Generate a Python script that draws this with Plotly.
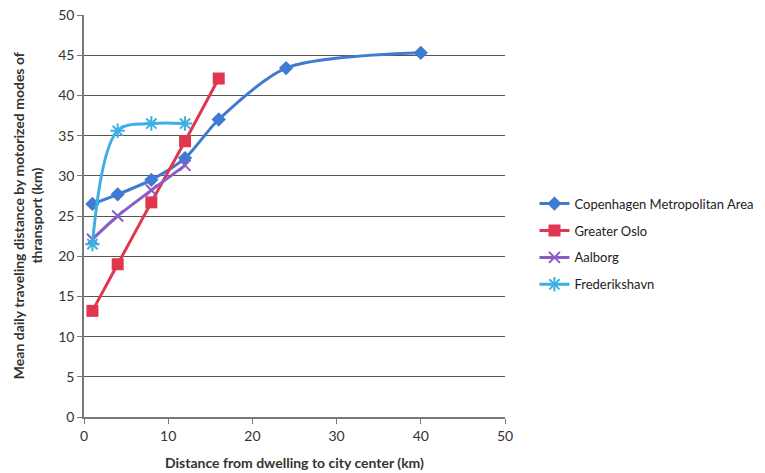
import plotly.graph_objects as go

cph_x = [1, 4, 8, 12, 16, 24, 40]
cph_y = [26.5, 27.7, 29.5, 32.2, 37.0, 43.4, 45.3]
oslo_x = [1, 4, 8, 12, 16]
oslo_y = [13.2, 19.0, 26.7, 34.3, 42.1]
aal_x = [1, 4, 8, 12]
aal_y = [22.1, 25.0, 28.2, 31.3]
fre_x = [1, 4, 8, 12]
fre_y = [21.5, 35.6, 36.5, 36.5]

FONT = "Lato"
fig = go.Figure()
fig.add_trace(go.Scatter(x=cph_x, y=cph_y, name="Copenhagen Metropolitan Area", legendgroup="a",
                         mode="lines+markers", line=dict(color="#3F7BD0", width=3, shape="spline", smoothing=0.8),
                         marker=dict(symbol="diamond", size=11, color="#3F7BD0")))
fig.add_trace(go.Scatter(x=oslo_x, y=oslo_y, name="Greater Oslo", legendgroup="b",
                         mode="lines+markers", line=dict(color="#E0374F", width=3, shape="spline", smoothing=0.5),
                         marker=dict(symbol="square", size=12, color="#E0374F")))
fig.add_trace(go.Scatter(x=aal_x, y=aal_y, name="Aalborg", legendgroup="c",
                         mode="lines+markers", line=dict(color="#8A5CC6", width=3, shape="spline", smoothing=0.8),
                         marker=dict(symbol="x-thin", size=11, line=dict(color="#8A5CC6", width=2))))
fig.add_trace(go.Scatter(x=fre_x, y=fre_y, name="Frederikshavn", legendgroup="d",
                         mode="lines+markers", line=dict(color="#3DB0E3", width=3, shape="spline", smoothing=1.0),
                         marker=dict(symbol="asterisk-open", size=12, line=dict(color="#3DB0E3", width=2))))

fig.update_layout(
    width=765, height=473,
    margin=dict(l=84, r=260, t=15, b=56, autoexpand=False),
    plot_bgcolor="white", paper_bgcolor="white",
    font=dict(family=FONT, size=14, color="#333"),
    legend=dict(x=1.07, y=0.43, xanchor="left", yanchor="middle", traceorder="grouped",
                font=dict(family=FONT, size=13, color="#222"), tracegroupgap=7,
                itemwidth=30),
    annotations=[
        dict(text="<b>Distance from dwelling to city center (km)</b>", xref="paper", yref="paper",
             x=0.5, y=-0.114, xanchor="center", yanchor="middle", showarrow=False,
             font=dict(family=FONT, size=14, color="#333")),
        dict(text="<b>Mean daily traveling distance by motorized modes of<br>thransport (km)</b>",
             xref="paper", yref="paper", x=-0.135, y=0.5, xanchor="center", yanchor="middle",
             textangle=-90, showarrow=False, font=dict(family=FONT, size=14, color="#333")),
    ],
)
fig.update_xaxes(range=[0, 50], dtick=10, showgrid=False, showline=True, linecolor="#777", linewidth=1.5,
                 ticks="outside", tickcolor="#777", ticklen=5, zeroline=False, automargin=False)
fig.update_yaxes(range=[0, 50], dtick=5, showgrid=True, gridcolor="#555", gridwidth=1,
                 showline=True, linecolor="#777", linewidth=1.5,
                 ticks="outside", tickcolor="#777", ticklen=5, zeroline=False, automargin=False)

fig.write_html("out.html", config={"displayModeBar": False},
               post_script="document.body.style.margin='0';document.body.style.overflow='hidden';")
